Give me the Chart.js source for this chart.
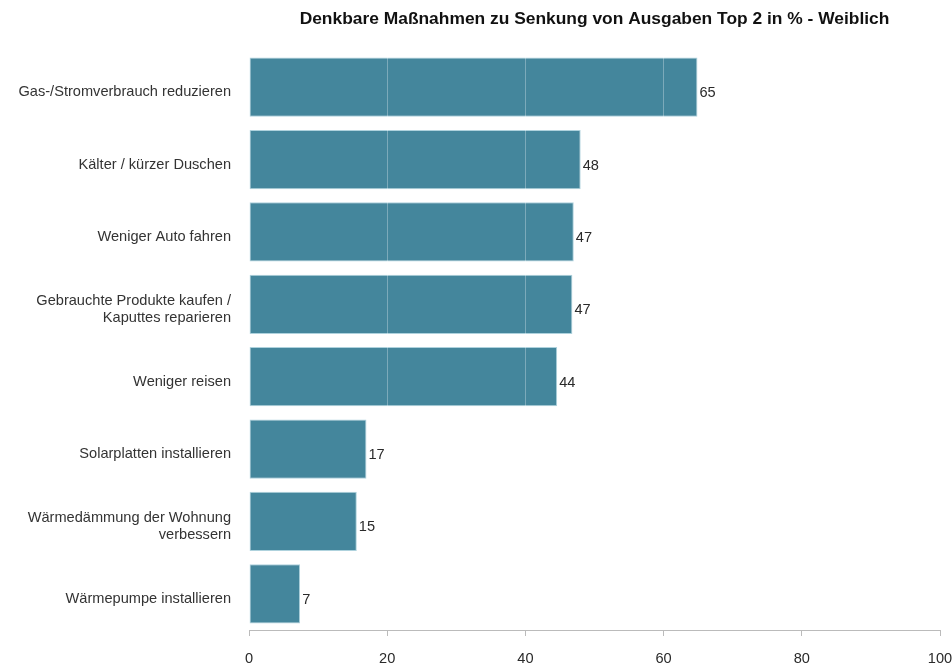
<!DOCTYPE html>
<html>
<head>
<meta charset="utf-8">
<script src="https://cdn.jsdelivr.net/npm/chart.js@4/dist/chart.umd.min.js"></script>
<style>
  html, body { margin: 0; padding: 0; background: #fff; }
  #wrap { width: 952px; height: 666px; position: relative; }
</style>
</head>
<body>
<div id="wrap"><canvas id="c" width="952" height="666"></canvas></div>
<script>
const titleText = "Denkbare Maßnahmen zu Senkung von Ausgaben Top 2 in % - Weiblich";
const categories = [
  ["Gas-/Stromverbrauch reduzieren"],
  ["Kälter / kürzer Duschen"],
  ["Weniger Auto fahren"],
  ["Gebrauchte Produkte kaufen /", "Kaputtes reparieren"],
  ["Weniger reisen"],
  ["Solarplatten installieren"],
  ["Wärmedämmung der Wohnung", "verbessern"],
  ["Wärmepumpe installieren"]
];
const values = [64.9, 48, 47, 46.8, 44.6, 17, 15.6, 7.4];
const valueLabels = ["65", "48", "47", "47", "44", "17", "15", "7"];
const xTicks = [0, 20, 40, 60, 80, 100];

const FONT = "'Liberation Sans', Arial, sans-serif";
const FS = 14.6;

const titlePlugin = {
  id: 'centeredTitle',
  afterDraw(chart) {
    const ctx = chart.ctx;
    const a = chart.chartArea;
    ctx.save();
    ctx.font = "bold 17.4px " + FONT;
    ctx.fillStyle = "#111";
    ctx.textAlign = "center";
    ctx.textBaseline = "middle";
    ctx.fillText(titleText, (a.left + a.right) / 2, 19);
    ctx.restore();
  }
};

const valueLabelPlugin = {
  id: 'valueLabels',
  afterDraw(chart) {
    const ctx = chart.ctx;
    const meta = chart.getDatasetMeta(0);
    ctx.save();
    ctx.font = FS + "px " + FONT;
    ctx.fillStyle = "#2a2a2a";
    ctx.textAlign = "left";
    ctx.textBaseline = "middle";
    meta.data.forEach((bar, i) => {
      ctx.fillText(valueLabels[i], bar.x + 2, bar.y + 6);
    });
    ctx.restore();
  }
};

new Chart(document.getElementById('c'), {
  type: 'bar',
  data: {
    labels: categories,
    datasets: [{
      data: values,
      backgroundColor: '#44869c',
      borderColor: '#aed2dd',
      borderWidth: 1,
      borderSkipped: false,
      categoryPercentage: 1,
      barPercentage: 0.82
    }]
  },
  options: {
    indexAxis: 'y',
    responsive: false,
    animation: false,
    events: [],
    layout: { padding: { top: 51, right: 12, left: 0, bottom: 0 } },
    plugins: {
      legend: { display: false },
      title: { display: false },
      tooltip: { enabled: false }
    },
    scales: {
      x: {
        type: 'linear',
        min: 0,
        max: 100,
        afterBuildTicks(s) { s.ticks = xTicks.map(v => ({ value: v })); },
        afterFit(s) { s.height = 36; s.paddingLeft = 0; s.paddingRight = 0; },
        grid: {
          z: 1,
          color: 'rgba(255,255,255,0.3)',
          lineWidth: 1,
          drawTicks: true,
          tickLength: 6,
          tickColor: '#bbbbbb'
        },
        border: { display: true, color: '#bbbbbb', width: 1, z: 1 },
        ticks: {
          padding: 14,
          color: '#2a2a2a',
          font: { family: FONT, size: FS }
        }
      },
      y: {
        offset: true,
        afterFit(s) { s.width = 249; },
        grid: { display: false, drawTicks: false },
        border: { display: false },
        ticks: {
          padding: 18,
          labelOffset: 5,
          color: '#333',
          font: { family: FONT, size: FS, lineHeight: 1.15 }
        }
      }
    }
  },
  plugins: [titlePlugin, valueLabelPlugin]
});
</script>
</body>
</html>
